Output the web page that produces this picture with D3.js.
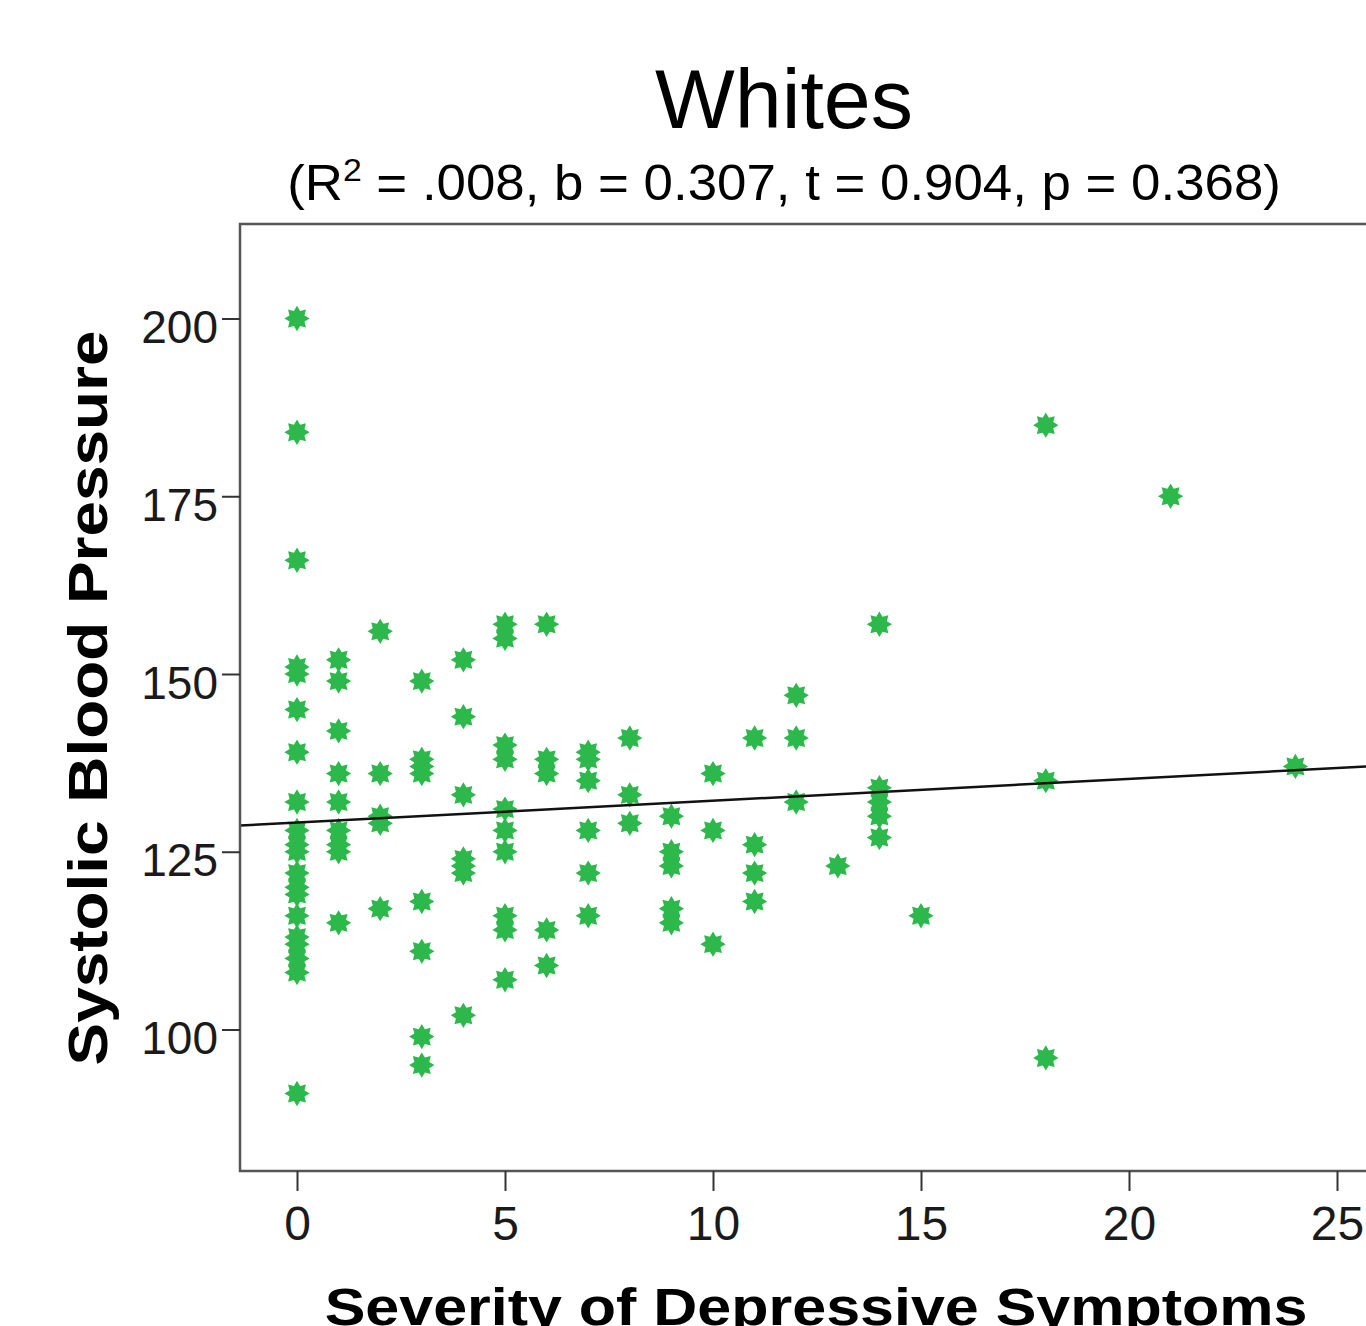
<!DOCTYPE html>
<html>
<head>
<meta charset="utf-8">
<script src="https://cdn.jsdelivr.net/npm/d3@7"></script>
<style>
  html, body { margin: 0; padding: 0; background: #fff; overflow: hidden; }
  svg { display: block; }
  text { font-family: "Liberation Sans", Arial, sans-serif; }
</style>
</head>
<body>
<div id="chart"></div>
<script>
// ---- data ----
const scores = [0, 1, 2, 3, 4, 5, 6, 7, 8, 9, 10, 11, 12, 13, 14, 15, 18, 21, 24];
const sbpByScore = [
  [200, 184, 166, 151, 150, 145, 139, 132, 128, 126, 125, 122, 120, 119, 116, 113, 112, 110, 108, 91],
  [152, 149, 142, 136, 132, 128, 126, 125, 115],
  [156, 136, 130, 129, 117],
  [149, 138, 137, 136, 118, 111, 99, 95],
  [152, 144, 133, 124, 123, 122, 102],
  [157, 155, 140, 138, 131, 128, 125, 116, 114, 107],
  [157, 138, 136, 114, 109],
  [139, 138, 135, 128, 122, 116],
  [141, 133, 129],
  [130, 125, 123, 117, 115],
  [136, 128, 112],
  [141, 126, 122, 118],
  [147, 141, 132],
  [123],
  [157, 134, 132, 130, 127],
  [116],
  [185, 135, 96],
  [175],
  [137]
];
const xTicks = [0, 5, 10, 15, 20, 25];
const yTicks = [100, 125, 150, 175, 200];
const slope = 0.307;
const intercept = 129.1;

const width = 1366;
const height = 1326;

const svg = d3.select("#chart")
  .append("svg")
  .attr("width", width)
  .attr("height", height);

// frame of the plot area (runs off the right edge like the original)
const plotLeft = 240, plotTop = 224, plotBottom = 1171, plotRight = 1420;

const x = d3.scaleLinear().domain([0, 25]).range([297, 1337]);
const y = d3.scaleLinear().domain([100, 200]).range([1029.5, 318.5]);

const points = [];
scores.forEach((s, i) => sbpByScore[i].forEach(v => points.push({ s, v })));

// 8-spike star like the SPSS asterisk marker
const star8 = {
  draw(context, size) {
    const R = Math.sqrt(size) / 2;
    const r = R * 0.64;
    for (let k = 0; k < 16; k++) {
      const a = -Math.PI / 2 + k * Math.PI / 8;
      const rad = k % 2 === 0 ? R : r;
      const px = rad * Math.cos(a), py = rad * Math.sin(a);
      if (k === 0) context.moveTo(px, py); else context.lineTo(px, py);
    }
    context.closePath();
  }
};

svg.append("defs").append("clipPath").attr("id", "plot-clip")
  .append("rect")
  .attr("x", plotLeft).attr("y", plotTop)
  .attr("width", plotRight - plotLeft).attr("height", plotBottom - plotTop);

const plot = svg.append("g").attr("clip-path", "url(#plot-clip)");

plot.selectAll("path.pt")
  .data(points)
  .enter()
  .append("path")
  .attr("class", "pt")
  .attr("transform", d => `translate(${x(d.s)},${y(d.v)})`)
  .attr("d", d3.symbol().type(star8).size(640))
  .attr("fill", "#2db84b");

// fit line
const xLo = x.invert(plotLeft), xHi = x.invert(plotRight);
plot.append("line")
  .attr("x1", x(xLo)).attr("y1", y(intercept + slope * xLo))
  .attr("x2", x(xHi)).attr("y2", y(intercept + slope * xHi))
  .attr("stroke", "#111")
  .attr("stroke-width", 2.5);

// frame
svg.append("path")
  .attr("d", `M${plotRight},${plotTop}H${plotLeft}V${plotBottom}H${plotRight}`)
  .attr("fill", "none")
  .attr("stroke", "#555")
  .attr("stroke-width", 2.5);

// axes
const yAxis = d3.axisLeft(y).tickValues(yTicks).tickSize(18).tickPadding(4);
const gy = svg.append("g").attr("transform", `translate(${plotLeft},0)`).call(yAxis);
gy.select(".domain").remove();
gy.selectAll(".tick line").attr("stroke", "#333").attr("stroke-width", 2);
gy.selectAll(".tick text")
  .attr("font-size", 46)
  .attr("fill", "#1a1a1a")
  .attr("dy", null)
  .attr("y", 24)
  .attr("font-family", "'Liberation Sans', Arial, sans-serif");

const xAxis = d3.axisBottom(x).tickValues(xTicks).tickSize(20).tickPadding(6);
const gx = svg.append("g").attr("transform", `translate(0,${plotBottom})`).call(xAxis);
gx.select(".domain").remove();
gx.selectAll(".tick line").attr("stroke", "#333").attr("stroke-width", 2);
gx.selectAll(".tick text")
  .attr("font-size", 48)
  .attr("fill", "#1a1a1a")
  .attr("dy", null)
  .attr("y", 69)
  .attr("font-family", "'Liberation Sans', Arial, sans-serif");

// stretch a text to a target width around its anchor
function fitText(sel, cx, cy, target, rotate) {
  const w = sel.node().getBBox().width;
  const s = target / w;
  sel.attr("transform", `translate(${cx},${cy})${rotate ? " rotate(-90)" : ""} scale(${s},1)`);
}

const title = svg.append("text")
  .attr("text-anchor", "middle")
  .attr("font-size", 84)
  .attr("fill", "#000")
  .text("Whites");
fitText(title, 784, 128, 258);

const sub = svg.append("text")
  .attr("text-anchor", "middle")
  .attr("font-size", 50)
  .attr("fill", "#000");
sub.append("tspan").text("(R");
sub.append("tspan").attr("font-size", 32).attr("dy", -19).text("2");
sub.append("tspan").attr("dy", 19).text(" = .008, b = 0.307, t = 0.904, p = 0.368)");
fitText(sub, 784, 200, 994);

const yLabel = svg.append("text")
  .attr("text-anchor", "middle")
  .attr("font-size", 56)
  .attr("font-weight", "bold")
  .attr("fill", "#000")
  .text("Systolic Blood Pressure");
fitText(yLabel, 107, 698, 735, true);

const xLabel = svg.append("text")
  .attr("text-anchor", "middle")
  .attr("font-size", 52)
  .attr("font-weight", "bold")
  .attr("fill", "#000")
  .text("Severity of Depressive Symptoms");
fitText(xLabel, 816, 1325, 983);
</script>
</body>
</html>
